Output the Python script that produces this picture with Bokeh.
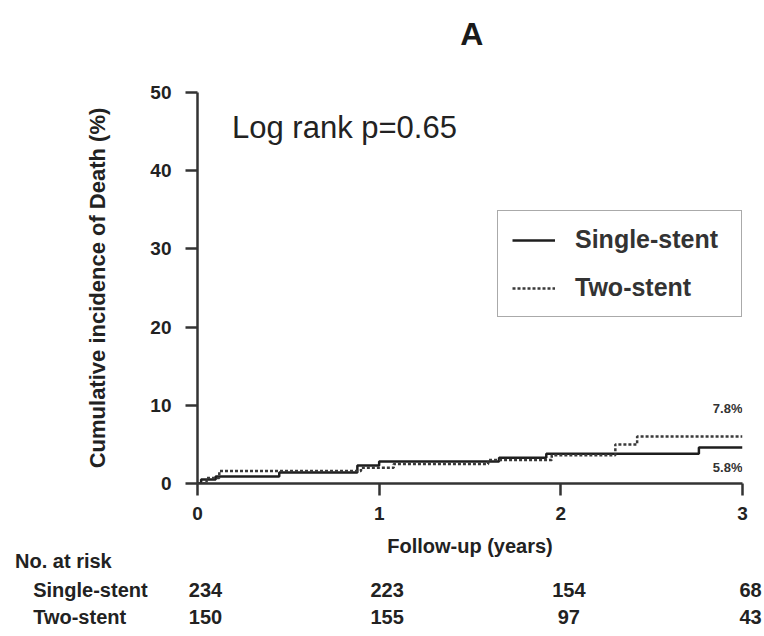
from bokeh.plotting import figure
from bokeh.layouts import column
from bokeh.models import Legend, LegendItem, Range1d, FixedTicker, Label
from bokeh.embed import file_html
from bokeh.resources import INLINE
from bokeh.core.properties import value

# ---- data ----
single_t = [0, 0.02, 0.10, 0.45, 0.88, 1.00, 1.66, 1.92, 2.76, 3.0]
single_v = [0, 0.5, 0.9, 1.4, 2.3, 2.8, 3.3, 3.8, 4.6, 4.6]
two_t = [0, 0.05, 0.12, 0.90, 1.08, 1.60, 1.95, 2.30, 2.42, 3.0]
two_v = [0, 0.7, 1.6, 2.0, 2.5, 3.0, 3.6, 5.0, 6.0, 6.0]

x_ticks = [0, 1, 2, 3]
y_ticks = [0, 10, 20, 30, 40, 50]

risk_times = [0, 1, 2, 3]
risk_single = [234, 223, 154, 68]
risk_two = [150, 155, 97, 43]
risk_groups = ["Single-stent", "Two-stent"]

end_labels = ["7.8%", "5.8%"]
end_label_y = [9.6, 2.0]

FONT = "Liberation Sans"
W = 764
FRAME_L, FRAME_R = 197, 742          # pixel columns of x=0 and x=3
PX_PER_YEAR = (FRAME_R - FRAME_L) / 3.0
X_LO = -FRAME_L / PX_PER_YEAR
X_HI = 3 + (W - FRAME_R) / PX_PER_YEAR

TOP_H, MAIN_H, TABLE_H = 70, 460, 106


def blank(height):
    f = figure(width=W, height=height, x_range=Range1d(X_LO, X_HI),
               y_range=Range1d(height, 0), output_backend="svg",
               toolbar_location=None, x_axis_type=None, y_axis_type=None,
               min_border=0, frame_align=False)
    f.outline_line_color = None
    f.xgrid.grid_line_color = None
    f.ygrid.grid_line_color = None
    return f


# ---- title panel ----
top = blank(TOP_H)
top.text(x=[1.51], y=[33], text=["A"], text_align="center", text_baseline="middle",
         text_font=value(FONT), text_font_style="bold", text_font_size="32px",
         text_color="#1a1a1a")

# ---- main plot ----
p = figure(width=W, height=MAIN_H, x_range=Range1d(0, 3), y_range=Range1d(0, 50),
           output_backend="svg", toolbar_location=None, frame_align=False,
           min_border_left=FRAME_L, min_border_right=W - FRAME_R,
           min_border_top=92 - TOP_H, min_border_bottom=TOP_H + MAIN_H - 483)
p.outline_line_color = None
p.xgrid.grid_line_color = None
p.ygrid.grid_line_color = None

for ax in (p.xaxis[0], p.yaxis[0]):
    ax.axis_line_width = 2.5
    ax.axis_line_color = "#333333"
    ax.major_tick_line_width = 2.5
    ax.major_tick_line_color = "#333333"
    ax.minor_tick_line_color = None
    ax.major_tick_in = 0
    ax.major_tick_out = 12
    ax.major_label_text_font = FONT
    ax.major_label_text_font_style = "bold"
    ax.major_label_text_font_size = "19px"
    ax.major_label_text_color = "#222222"
    ax.axis_label_text_font = FONT
    ax.axis_label_text_font_style = "bold"
    ax.axis_label_text_color = "#222222"

p.xaxis.ticker = FixedTicker(ticks=x_ticks)
p.yaxis.ticker = FixedTicker(ticks=y_ticks)
p.xaxis.major_label_standoff = 11
p.yaxis.major_label_standoff = 14
p.yaxis.axis_label = "Cumulative incidence of Death (%)"
p.yaxis.axis_label_text_font_size = "22px"
p.yaxis.axis_label_standoff = 37

r1 = p.step(single_t, single_v, mode="after", line_color="#1e1e1e", line_width=2.5)
r2 = p.step(two_t, two_v, mode="after", line_color="#3a3a3a", line_width=2.5,
            line_dash="3 2")

legend = Legend(items=[LegendItem(label="Single-stent", renderers=[r1]),
                       LegendItem(label="Two-stent", renderers=[r2])],
                location=(300, 166))
legend.border_line_color = "#555555"
legend.border_line_width = 1.5
legend.padding = 14
legend.margin = 0
legend.spacing = 19
legend.glyph_width = 43
legend.label_standoff = 20
legend.label_height = 28
legend.glyph_height = 28
legend.label_width = 152
legend.label_text_font = FONT
legend.label_text_font_style = "bold"
legend.label_text_font_size = "25px"
legend.label_text_color = "#333333"
p.add_layout(legend)

p.add_layout(Label(x=0.19, y=45.5, text="Log rank p=0.65", text_align="left",
                   text_baseline="middle", text_font=FONT, text_font_size="31px",
                   text_color="#222222"))
for t, yv in zip(end_labels, end_label_y):
    p.add_layout(Label(x=3, y=yv, text=t, text_align="right", text_baseline="middle",
                       text_font=FONT, text_font_style="bold", text_font_size="13px",
                       text_color="#333333"))

# ---- axis title + numbers at risk ----
tab = blank(TABLE_H)
TXT = dict(text_baseline="middle", text_font=value(FONT), text_font_style="bold",
           text_font_size="20px", text_color="#222222")
tab.text(x=[1.5], y=[15], text=["Follow-up (years)"], text_align="center", **TXT)
tab.text(x=[X_LO + 0.08], y=[30], text=["No. at risk"], text_align="left", **TXT)
row_y = [59, 86]
tab.text(x=[X_LO + 0.18] * 2, y=row_y, text=risk_groups, text_align="left", **TXT)
for counts, yv in zip([risk_single, risk_two], row_y):
    tab.text(x=risk_times, y=[yv] * len(risk_times), text=[str(c) for c in counts],
             text_align="center", x_offset=8, **TXT)

layout = column(top, p, tab, spacing=0)
open("out.html", "w").write(file_html(layout, INLINE))
